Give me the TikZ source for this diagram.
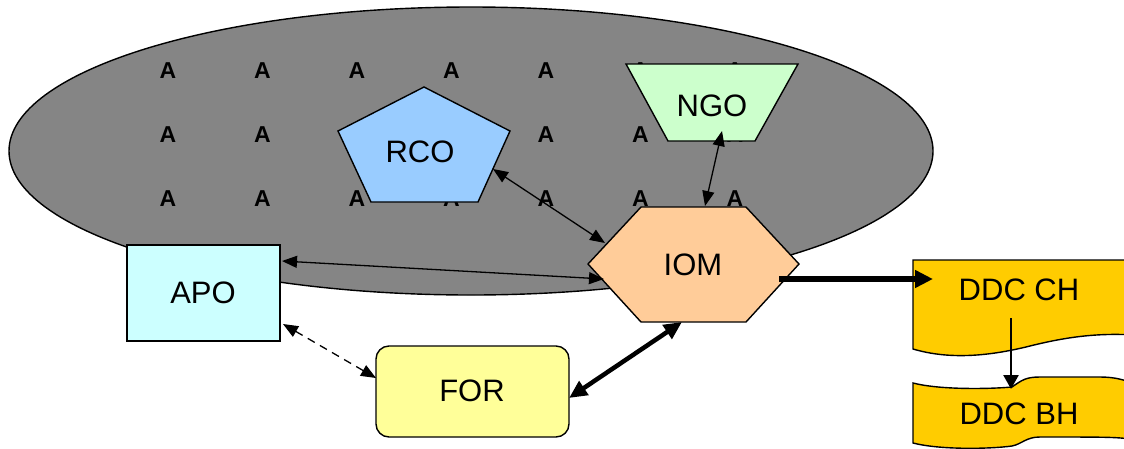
\documentclass[tikz,border=0pt]{standalone}
\usepackage{fontspec}
\setmainfont{Liberation Sans}
\usetikzlibrary{arrows.meta}
\definecolor{rcoc}{HTML}{99CCFF}
\definecolor{ngoc}{HTML}{CCFFCC}
\definecolor{iomc}{HTML}{FFCC99}
\definecolor{apoc}{HTML}{CCFFFF}
\definecolor{forc}{HTML}{FFFF99}
\definecolor{ddcc}{HTML}{FFCC00}
\definecolor{ellc}{HTML}{858585}
\begin{document}
\begin{tikzpicture}[x=1pt,y=-1pt,
  shp/.style={draw=black, line width=1.4pt, line join=miter},
  lbl/.style={font=\fontsize{31}{36}\selectfont, inner sep=0pt},
  amark/.style={font=\bfseries\fontsize{23}{26}\selectfont, inner sep=0pt},
  thinarr/.style={line width=1.3pt, {Triangle[length=15pt,width=12pt]}-{Triangle[length=15pt,width=12pt]}},
  dasharr/.style={thinarr, dash pattern=on 8pt off 6pt},
  thickarr/.style={line width=4.5pt, {Triangle[length=18pt,width=16pt]}-{Triangle[length=18pt,width=16pt]}},
  bigarr/.style={line width=5.5pt, -{Triangle[length=18pt,width=17pt]}},
  midarr/.style={line width=2.5pt, -{Triangle[length=14pt,width=15pt]}}
]
\useasboundingbox (0,0) rectangle (1124,448);
\clip (0,0) rectangle (1124,448);
% cloud ellipse
\draw[shp, fill=ellc] (471,151) ellipse [x radius=462, y radius=144];
% grid of A marks (those wholly hidden under RCO are left out)
\foreach \c/\r in {0/0,1/0,2/0,3/0,4/0,5/0,6/0,
                   0/1,1/1,4/1,5/1,6/1,
                   0/2,1/2,2/2,3/2,4/2,5/2,6/2}
    \node[amark] (a\c\r) at ({168+94.5*\c},{71+64*\r}) {A};
% RCO pentagon
\draw[shp, fill=rcoc] (424,87) -- (510,131) -- (478,202) -- (371,202) -- (338,131) -- cycle;
\node[lbl] (rco) at (420,152) {RCO};
% NGO trapezoid
\draw[shp, fill=ngoc] (626,64) -- (798,64) -- (755,141) -- (668,141) -- cycle;
\node[lbl] (ngo) at (712,106) {NGO};
% IOM hexagon
\draw[shp, fill=iomc] (588,264) -- (641,207) -- (746,207) -- (799,264) -- (746,322) -- (641,322) -- cycle;
\node[lbl] (iom) at (693,265) {IOM};
% APO box
\draw[shp, fill=apoc] (127,245) rectangle (280,341);
\node[lbl] (apo) at (203,293) {APO};
% FOR rounded box
\draw[shp, fill=forc, rounded corners=13pt] (376,346) rectangle (569,437);
\node[lbl] (for) at (472,391) {FOR};
% DDC CH document
\draw[shp, fill=ddcc] (913,260) -- (1135,260) -- (1135,335)
  .. controls (1100,333) and (1070,336) .. (1030,346)
  .. controls (990,356) and (950,360) .. (913,349) -- cycle;
\node[lbl] (ddcch) at (1019,290) {DDC CH};
% DDC BH tape
\draw[shp, fill=ddcc] (913,383)
  .. controls (940,390) and (990,389) .. (1012,387)
  .. controls (1022,380) and (1026,377) .. (1040,377)
  -- (1100,377) .. controls (1115,377) and (1125,380) .. (1135,384)
  -- (1135,440) .. controls (1120,437) and (1110,437) .. (1040,437)
  .. controls (1026,437) and (1022,444) .. (1012,446)
  .. controls (990,449) and (940,450) .. (913,443) -- cycle;
\node[lbl] (ddcbh) at (1019,414) {DDC BH};
% connector end points
\coordinate (rcoP) at (493,169);
\coordinate (iomR) at (605,243);
\coordinate (ngoP) at (722,131);
\coordinate (iomN) at (705,206);
\coordinate (apoI) at (282,261);
\coordinate (iomA) at (604,279);
\coordinate (apoF) at (283,324);
\coordinate (forA) at (376,378);
\coordinate (forI) at (569,398);
\coordinate (iomF) at (682,322);
\coordinate (iomD) at (779,279);
\coordinate (ddcIn) at (933,279);
\coordinate (chOut) at (1011,318);
\coordinate (bhIn) at (1011,389);
% connectors
\draw[thinarr] (rcoP) -- (iomR);
\draw[thinarr] (ngoP) -- (iomN);
\draw[thinarr] (apoI) -- (iomA);
\draw[dasharr] (apoF) -- (forA);
\draw[thickarr] (forI) -- (iomF);
\draw[bigarr] (iomD) -- (ddcIn);
\draw[midarr] (chOut) -- (bhIn);
\end{tikzpicture}
\end{document}
